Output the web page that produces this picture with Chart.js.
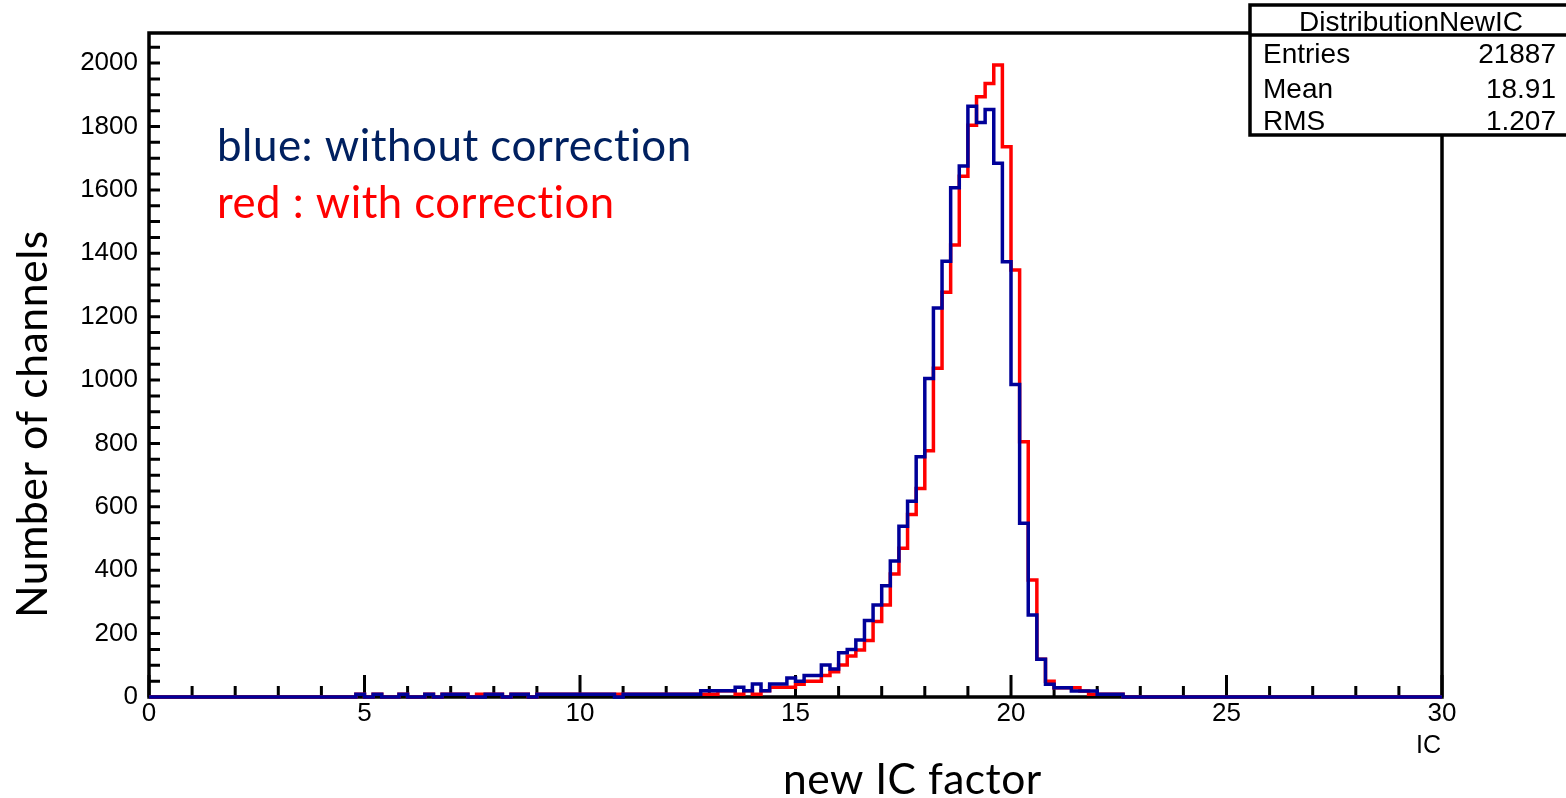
<!DOCTYPE html>
<html>
<head>
<meta charset="utf-8">
<script src="https://cdn.jsdelivr.net/npm/chart.js@4.4.0/dist/chart.umd.min.js"></script>
<style>
  html, body { margin: 0; padding: 0; background: #fff; }
  #wrap { width: 1566px; height: 798px; }
</style>
</head>
<body>
<div id="wrap"><canvas id="myChart" width="1566" height="798"></canvas></div>
<script>
// histogram: 150 bins of 0.2 from 0 to 30
var binWidth = 0.2;
var firstBinLow = 4.8;   // bins below this are empty

var blueCounts = [
  9, 0, 9, 0, 0, 9, 0, 0, 9, 0,
  9, 9, 9, 0, 0, 9, 9, 0, 9, 9,
  0, 9, 9, 9, 9, 9, 9, 9, 9, 9,
  0, 9, 9, 9, 9, 9, 9, 9, 9, 9,
  20, 20, 20, 20, 31, 20, 41, 20, 41, 41,
  60, 50, 68, 68, 101, 88, 140, 150, 180, 241,
  290, 351, 429, 539, 618, 758, 1005, 1227, 1375, 1607,
  1675, 1864, 1813, 1854, 1684, 1373, 986, 548, 259, 119,
  40, 29, 29, 19, 19, 19, 9, 9, 9
];

var redCounts = [
  9, 0, 9, 0, 0, 9, 0, 0, 9, 0,
  9, 9, 9, 0, 9, 9, 9, 0, 9, 9,
  0, 9, 9, 9, 9, 9, 9, 9, 9, 9,
  9, 9, 9, 9, 9, 9, 9, 9, 9, 9,
  9, 9, 20, 20, 9, 20, 9, 20, 31, 31,
  31, 40, 50, 50, 68, 80, 101, 129, 148, 178,
  238, 290, 388, 469, 576, 658, 777, 1037, 1277, 1426,
  1643, 1804, 1894, 1936, 1994, 1736, 1347, 805, 369, 119,
  50, 29, 29, 29, 19, 9, 9, 9, 9
];

var xMin = 0, xMax = 30;
var yMax = 2095;
var xMajorStep = 5, xMinorStep = 1;
var yMajorStep = 200, yMinorStep = 50;

var statsTitle = "DistributionNewIC";
var statsNames = ["Entries", "Mean", "RMS"];
var statsValues = ["21887", "18.91", "1.207"];

var blueLabel = "blue: without correction";
var redLabel = "red : with correction";
var xTitle = "new IC factor";
var yTitle = "Number of channels";
var xUnit = "IC";

function histPoints(counts) {
  var nBins = Math.round((xMax - xMin) / binWidth);
  var start = Math.round(firstBinLow / binWidth);
  var pts = [];
  for (var k = 0; k < nBins; k++) {
    var i = k - start;
    var v = (i >= 0 && i < counts.length) ? counts[i] : 0;
    pts.push({x: xMin + k * binWidth, y: v});
  }
  pts.push({x: xMax, y: 0});
  return pts;
}

// scale a font so the text spans the given width
function fitFont(ctx, text, family, width) {
  ctx.font = '100px ' + family;
  var w = ctx.measureText(text).width;
  return (100 * width / w).toFixed(1) + 'px ' + family;
}

// ROOT style frame with inward ticks
var rootFrame = {
  id: 'rootFrame',
  beforeDatasetsDraw: function(chart) {
    var ctx = chart.ctx, a = chart.chartArea;
    var xs = chart.scales.x, ys = chart.scales.y;
    ctx.save();
    ctx.strokeStyle = '#000';
    ctx.lineWidth = 3.5;
    ctx.strokeRect(a.left, a.top, a.right - a.left, a.bottom - a.top);
    ctx.lineWidth = 3;
    ctx.beginPath();
    for (var v = xMin; v <= xMax; v += xMinorStep) {
      var px = xs.getPixelForValue(v);
      var len = (v % xMajorStep === 0) ? 22 : 11;
      ctx.moveTo(px, a.bottom);
      ctx.lineTo(px, a.bottom - len);
    }
    for (var y = 0; y <= yMax; y += yMinorStep) {
      var py = ys.getPixelForValue(y);
      ctx.moveTo(a.left, py);
      ctx.lineTo(a.left + 11, py);
    }
    ctx.stroke();
    ctx.restore();
  },
  afterDraw: function(chart) {
    var ctx = chart.ctx;
    ctx.save();
    ctx.textBaseline = 'alphabetic';
    ctx.textAlign = 'left';
    ctx.letterSpacing = '0.5px';   // keeps "ti" from turning into a ligature

    ctx.fillStyle = '#002060';
    ctx.font = fitFont(ctx, blueLabel, 'Lato', 468);
    ctx.fillText(blueLabel, 217, 161);
    ctx.fillStyle = '#ff0000';
    ctx.font = fitFont(ctx, redLabel, 'Lato', 392);
    ctx.fillText(redLabel, 217, 218);

    ctx.fillStyle = '#000';
    ctx.font = fitFont(ctx, xTitle, 'Lato', 255);
    ctx.fillText(xTitle, 783, 794);

    ctx.save();
    ctx.translate(47, 618);
    ctx.rotate(-Math.PI / 2);
    ctx.font = fitFont(ctx, yTitle, 'Lato', 383);
    ctx.fillText(yTitle, 0, 0);
    ctx.restore();
    ctx.letterSpacing = '0px';

    ctx.font = '25px "Liberation Sans"';
    ctx.textAlign = 'right';
    ctx.fillText(xUnit, 1441, 753);

    // stats box
    ctx.fillStyle = '#fff';
    ctx.fillRect(1250, 5, 330, 130);
    ctx.strokeStyle = '#000';
    ctx.lineWidth = 3.5;
    ctx.strokeRect(1250, 5, 330, 130);
    ctx.beginPath();
    ctx.moveTo(1250, 35);
    ctx.lineTo(1580, 35);
    ctx.stroke();
    ctx.fillStyle = '#000';
    ctx.font = '28px "Liberation Sans"';
    ctx.textAlign = 'center';
    ctx.fillText(statsTitle, 1411, 31);
    var rowBase = [63, 98, 130];
    for (var i = 0; i < statsNames.length; i++) {
      ctx.textAlign = 'left';
      ctx.fillText(statsNames[i], 1263, rowBase[i]);
      ctx.textAlign = 'right';
      ctx.fillText(statsValues[i], 1556, rowBase[i]);
    }
    ctx.restore();
  }
};

var tickFont = { family: '"Liberation Sans", Arial, sans-serif', size: 26 };

var ctx = document.getElementById('myChart');
var myChart = new Chart(ctx, {
  type: 'line',
  data: {
    datasets: [{
      label: 'without correction',
      data: histPoints(blueCounts),
      borderColor: '#000099',
      borderWidth: 3.5,
      stepped: true,
      pointRadius: 0,
      fill: false,
      clip: false,
      borderJoinStyle: 'miter',
      borderCapStyle: 'butt'
    }, {
      label: 'with correction',
      data: histPoints(redCounts),
      borderColor: '#ff0000',
      borderWidth: 3.5,
      stepped: true,
      pointRadius: 0,
      fill: false,
      clip: false,
      borderJoinStyle: 'miter',
      borderCapStyle: 'butt'
    }]
  },
  options: {
    responsive: false,
    animation: false,
    layout: { padding: { left: 0, right: 124, top: 33, bottom: 0 } },
    plugins: { legend: { display: false }, tooltip: { enabled: false } },
    scales: {
      x: {
        type: 'linear',
        min: xMin,
        max: xMax,
        grid: { display: false },
        border: { display: false },
        ticks: {
          stepSize: xMajorStep, font: tickFont, color: '#000', padding: -7, maxRotation: 0,
          callback: function(v) { return String(v); }
        },
        afterFit: function(s) { s.height = 101; }
      },
      y: {
        type: 'linear',
        min: 0,
        max: yMax,
        grid: { display: false },
        border: { display: false },
        ticks: {
          stepSize: yMajorStep, font: tickFont, color: '#000', padding: 3,
          callback: function(v) { return String(v); }
        },
        afterBuildTicks: function(s) {
          s.ticks = s.ticks.filter(function(t) { return t.value % yMajorStep === 0; });
        },
        afterFit: function(s) { s.width = 149; }
      }
    }
  },
  plugins: [rootFrame]
});
</script>
</body>
</html>
